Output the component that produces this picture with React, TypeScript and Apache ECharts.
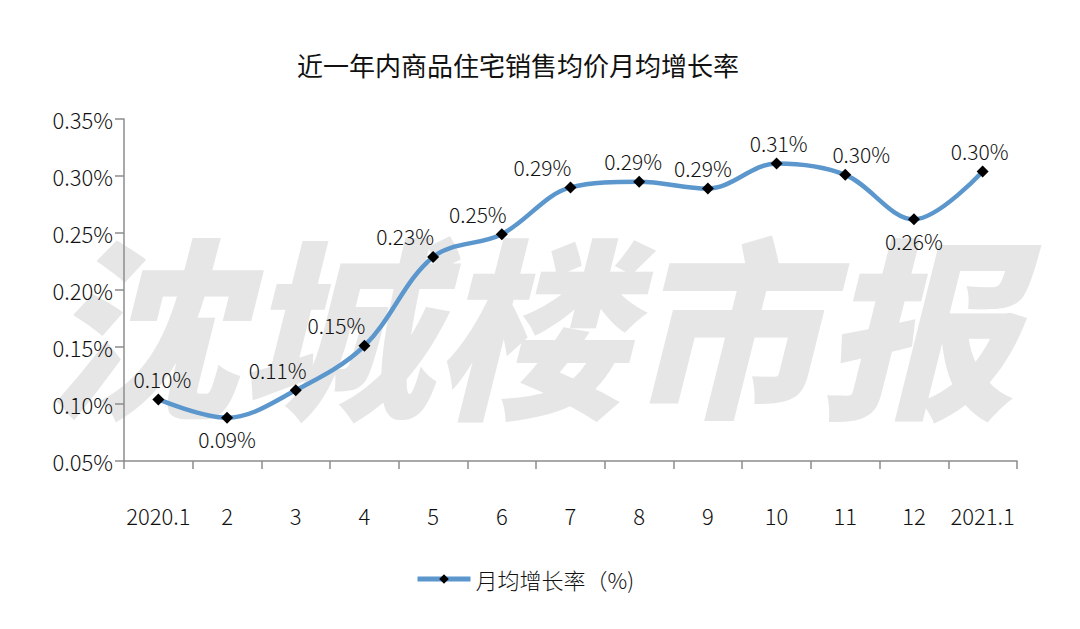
import React, { useEffect, useRef } from "react";
import * as echarts from "echarts";

const categories = ["2020.1", "2", "3", "4", "5", "6", "7", "8", "9", "10", "11", "12", "2021.1"];
const growthRate = [0.104, 0.088, 0.112, 0.151, 0.229, 0.249, 0.290, 0.295, 0.289, 0.311, 0.301, 0.262, 0.304];
const yTicks = { min: 0.05, max: 0.35, interval: 0.05 };
const seriesName = "月均增长率（%)";
const titleText = "近一年内商品住宅销售均价月均增长率";
const watermarkText = "沈城楼市报";

// label placement styling (not data)
const labelBelow = [false, true, false, false, false, false, false, false, false, false, false, true, false];
const labelDx = [4, 0, -18, -28, -28, -24, -28, -6, -5, 2, 16, 0, -3];

const FONT = "Noto Sans CJK SC";
const W = 300;
const LINE_COLOR = "#5b96cc";

export default function App() {
  const ref = useRef<HTMLDivElement>(null);
  useEffect(() => {
    if (!ref.current) return;
    const chart = echarts.init(ref.current, null, { renderer: "svg" });
    const data = growthRate.map((v, i) => ({
      value: v,
      label: {
        position: labelBelow[i] ? "bottom" : "top",
        offset: [labelDx[i], labelBelow[i] ? 2 : -1],
      },
    }));
    chart.setOption({
      animation: false,
      backgroundColor: "#ffffff",
      textStyle: { fontFamily: FONT },
      title: {
        text: titleText,
        left: 513,
        textAlign: "center",
        top: 46,
        textStyle: { fontFamily: FONT, fontSize: 26, fontWeight: "normal", color: "#111" },
      },
      graphic: [
        {
          type: "text",
          left: 45,
          top: 222,
          z: -10,
          silent: true,
          style: {
            text: watermarkText,
            fontFamily: FONT,
            fontSize: 194,
            fontWeight: 900,
            fontStyle: "italic",
            fill: "#e6e6e6",
          },
        },
      ],
      legend: {
        left: 410,
        top: 563,
        itemWidth: 53,
        itemHeight: 12,
        itemGap: 9,
        lineStyle: { width: 5, color: LINE_COLOR },
        itemStyle: { color: "#000000" },
        textStyle: { fontFamily: FONT, fontSize: 22, fontWeight: W, color: "#111" },
        data: [seriesName],
      },
      grid: { left: 124, right: 63, top: 119, bottom: 168 },
      xAxis: {
        type: "category",
        data: categories,
        boundaryGap: true,
        axisLine: { lineStyle: { color: "#8c8c8c", width: 1.5 } },
        axisTick: { show: true, length: 8, lineStyle: { color: "#8c8c8c", width: 1.5 } },
        axisLabel: { interval: 0, margin: 43, fontFamily: FONT, fontSize: 22, fontWeight: W, color: "#111" },
      },
      yAxis: {
        type: "value",
        min: yTicks.min,
        max: yTicks.max,
        interval: yTicks.interval,
        splitLine: { show: false },
        axisLine: { show: true, lineStyle: { color: "#8c8c8c", width: 1.5 } },
        axisTick: { show: true, length: 9, lineStyle: { color: "#8c8c8c", width: 1.5 } },
        axisLabel: {
          margin: 11,
          fontFamily: FONT,
          fontSize: 22,
          fontWeight: W,
          color: "#111",
          formatter: (v: number) => v.toFixed(2) + "%",
        },
      },
      series: [
        {
          name: seriesName,
          type: "line",
          smooth: 0.35,
          data,
          symbol: "diamond",
          symbolSize: 12,
          itemStyle: { color: "#000000" },
          lineStyle: { color: LINE_COLOR, width: 4.5 },
          label: {
            show: true,
            fontFamily: FONT,
            fontSize: 21,
            fontWeight: W,
            color: "#111",
            distance: 3,
            formatter: (p: any) => p.value.toFixed(2) + "%",
          },
          z: 3,
        },
      ],
    });
    return () => chart.dispose();
  }, []);
  return (
    <div
      ref={ref}
      style={{ position: "fixed", left: 0, top: 0, width: 1080, height: 629 }}
    />
  );
}
